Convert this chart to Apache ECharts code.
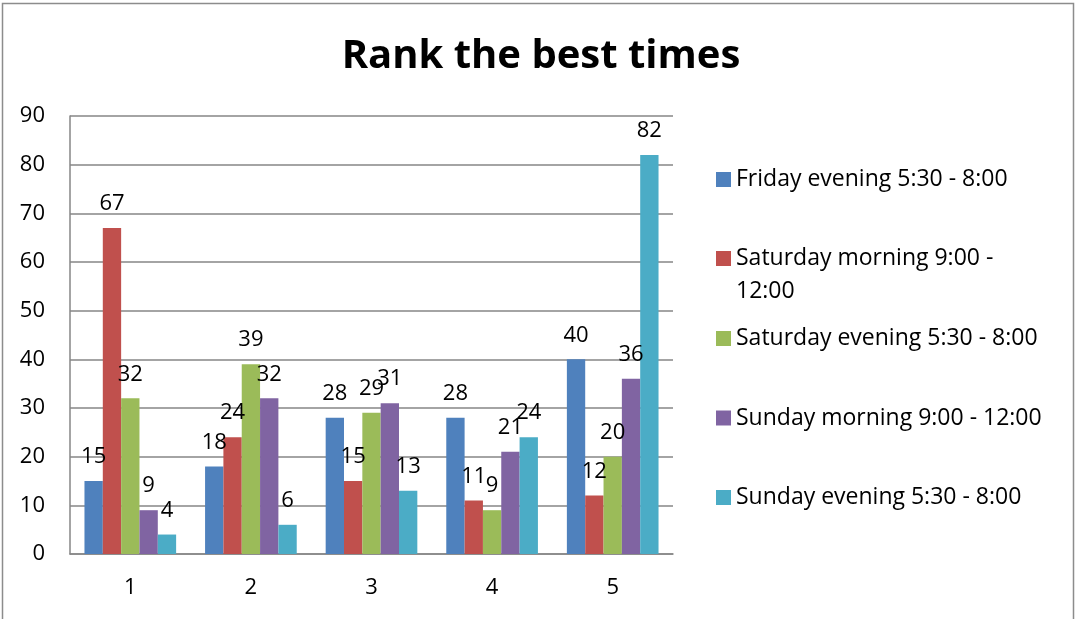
<!DOCTYPE html>
<html>
<head>
<meta charset="utf-8">
<title>Rank the best times</title>
<script src="https://cdn.jsdelivr.net/npm/echarts@6/dist/echarts.min.js"></script>
<style>
  html, body { margin: 0; padding: 0; background: #fff; }
  #chart { width: 1076px; height: 619px; }
</style>
</head>
<body>
<div id="chart"></div>
<script>
// data
const ranks = ['1', '2', '3', '4', '5'];
const seriesNames = [
  'Friday evening 5:30 - 8:00',
  'Saturday morning 9:00 - 12:00',
  'Saturday evening 5:30 - 8:00',
  'Sunday morning 9:00 - 12:00',
  'Sunday evening 5:30 - 8:00'
];
const fridayEvening = [15, 18, 28, 28, 40];
const saturdayMorning = [67, 24, 15, 11, 12];
const saturdayEvening = [32, 39, 29, 9, 20];
const sundayMorning = [9, 32, 31, 21, 36];
const sundayEvening = [4, 6, 13, 24, 82];
const yTicks = [0, 10, 20, 30, 40, 50, 60, 70, 80, 90];

const colors = ['#4F81BD', '#C0504D', '#9BBB59', '#8064A2', '#4BACC6'];
const allValues = [fridayEvening, saturdayMorning, saturdayEvening, sundayMorning, sundayEvening];
const font = '"Open Sans", "Noto Sans", sans-serif';

const chart = echarts.init(document.getElementById('chart'));

const series = seriesNames.map((name, i) => ({
  name: name,
  type: 'bar',
  data: allValues[i],
  barGap: '0%',
  barCategoryGap: '24%',
  itemStyle: { color: colors[i] },
  label: {
    show: true,
    position: 'top',
    distance: 13,
    color: '#000',
    fontFamily: font,
    fontSize: 22
  }
}));

const legendText = { color: '#000', fontFamily: font, fontSize: 23, lineHeight: 33 };

const option = {
  animation: false,
  backgroundColor: '#fff',
  color: colors,
  title: {
    text: 'Rank the best times',
    left: 536,
    textAlign: 'center',
    top: 32,
    textStyle: { color: '#000', fontFamily: font, fontWeight: 'bold', fontSize: 40 }
  },
  graphic: [{
    type: 'rect',
    shape: { x: 2.5, y: 3.5, width: 1071, height: 660 },
    style: { fill: 'none', stroke: '#8c8c8c', lineWidth: 1.5 },
    silent: true
  }],
  legend: [{
    // first two items; the wrapped one gets an empty first line so its
    // marker lines up with "Saturday morning"
    orient: 'vertical',
    left: 716,
    top: 163,
    padding: 0,
    itemWidth: 15,
    itemHeight: 15,
    itemGap: 13,
    icon: 'rect',
    textStyle: legendText,
    formatter: function (n) {
      return n === seriesNames[1] ? ' \nSaturday morning 9:00 -\n12:00' : n;
    },
    data: [seriesNames[0], seriesNames[1]]
  }, {
    orient: 'vertical',
    left: 716,
    top: 322,
    padding: 0,
    itemWidth: 15,
    itemHeight: 15,
    itemGap: 46.5,
    icon: 'rect',
    textStyle: legendText,
    data: [seriesNames[2], seriesNames[3], seriesNames[4]]
  }],
  grid: { left: 70, right: 403, top: 116, bottom: 65 },
  xAxis: {
    type: 'category',
    data: ranks,
    axisLine: { lineStyle: { color: '#868686', width: 1.5 } },
    axisTick: { show: false },
    axisLabel: { color: '#000', fontFamily: font, fontSize: 22, margin: 23 }
  },
  yAxis: {
    type: 'value',
    min: yTicks[0],
    max: yTicks[yTicks.length - 1],
    interval: 10,
    axisLine: { show: true, lineStyle: { color: '#868686', width: 1.5 } },
    axisTick: { show: false },
    splitLine: { lineStyle: { color: '#868686', width: 1.5 } },
    axisLabel: { color: '#000', fontFamily: font, fontSize: 22, margin: 25 }
  },
  series: series
};

chart.setOption(option);
</script>
</body>
</html>
